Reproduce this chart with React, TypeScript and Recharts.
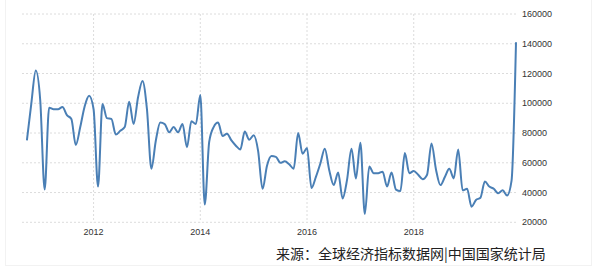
import React from 'react';
import { LineChart, Line, XAxis, YAxis, CartesianGrid } from 'recharts';

// monthly values, Oct 2010 .. Dec 2019
const values: number[] = [
  75000, 100000, 122000, 102000, 42000, 97000, 96000, 96000, 97500, 92000,
  89500, 72000, 84000, 98000, 105000, 96000, 44000, 99500, 90000, 89500,
  79000, 81500, 84000, 101000, 86000, 104000, 115000, 96000, 56000, 75000,
  87000, 86000, 80500, 84000, 80500, 86000, 70500, 88000, 86000, 105500,
  32000, 74000, 84000, 87000, 78000, 79500, 75000, 71500, 69000, 81000,
  75500, 78500, 68000, 42500, 58000, 64500, 64000, 60000, 61000, 59000,
  56000, 80000, 66000, 70000, 43000, 50500, 59500, 69500, 55000, 45000,
  53500, 36000, 48500, 69500, 49500, 73500, 25500, 57500, 53000, 53000,
  54000, 44000, 53500, 42000, 41000, 66500, 53000, 54500, 52000, 49000,
  52000, 73000, 55500, 45000, 50500, 56000, 49500, 69000, 41500, 42500,
  30500, 35000, 36500, 47500, 44000, 42500, 39500, 41500, 38000, 48000,
  141000,
];

const startYear = 2010;
const startMonth = 9; // October, zero based

const yearTicks = [2012, 2014, 2016, 2018];
const valueTicks = [20000, 40000, 60000, 80000, 100000, 120000, 140000, 160000];
const sourceText = '来源：全球经济指标数据网|中国国家统计局';

const xDomain: [number, number] = [-1.1, 110];

const data = values.map((v, i) => ({ idx: i, value: v }));
const tickIdx = yearTicks.map((y) => (y - startYear) * 12 - startMonth);
const yearOf = (idx: number) => String(Math.floor((idx + startMonth) / 12) + startYear);

const axisFont = { fontSize: 9, fill: '#333', fontFamily: 'Liberation Sans, Arial, sans-serif' };

// only the year lines, not the plot edges
const yearLines = ({ offset }: any) =>
  tickIdx.map((t) => offset.left + (offset.width * (t - xDomain[0])) / (xDomain[1] - xDomain[0]));

export default function App() {
  return (
    <div style={{ position: 'absolute', left: 0, top: 0, width: 600, height: 273, background: '#fff' }}>
      <div
        style={{
          position: 'absolute',
          left: 5,
          top: -2,
          width: 587,
          height: 268,
          border: '1px solid #f2f2f2',
          boxSizing: 'border-box',
        }}
      />
      <LineChart
        width={600}
        height={273}
        data={data}
        margin={{ top: 14, right: 24, left: 22, bottom: 30.7 }}
        style={{ position: 'absolute', left: 0, top: 0 }}
      >
        <CartesianGrid stroke="#dcdcdc" strokeDasharray="2 2" verticalCoordinatesGenerator={yearLines} />
        <XAxis
          dataKey="idx"
          type="number"
          domain={xDomain}
          ticks={tickIdx}
          tickFormatter={yearOf}
          axisLine={false}
          tickLine={false}
          tickMargin={0}
          height={20}
          tick={axisFont}
        />
        <YAxis
          orientation="right"
          domain={[20000, 160000]}
          ticks={valueTicks}
          axisLine={false}
          tickLine={false}
          tickMargin={0}
          width={60}
          interval={0}
          tick={{ ...axisFont, textAnchor: 'start' }}
        />
        <Line
          type="monotone"
          dataKey="value"
          stroke="#4a7fb5"
          strokeWidth={2}
          dot={false}
          isAnimationActive={false}
        />
      </LineChart>
      <div
        style={{
          position: 'absolute',
          left: 276,
          top: 245,
          fontSize: 14,
          lineHeight: '16px',
          color: '#222',
          fontFamily: '"Noto Sans CJK SC", sans-serif',
          whiteSpace: 'nowrap',
        }}
      >
        {sourceText}
      </div>
    </div>
  );
}
